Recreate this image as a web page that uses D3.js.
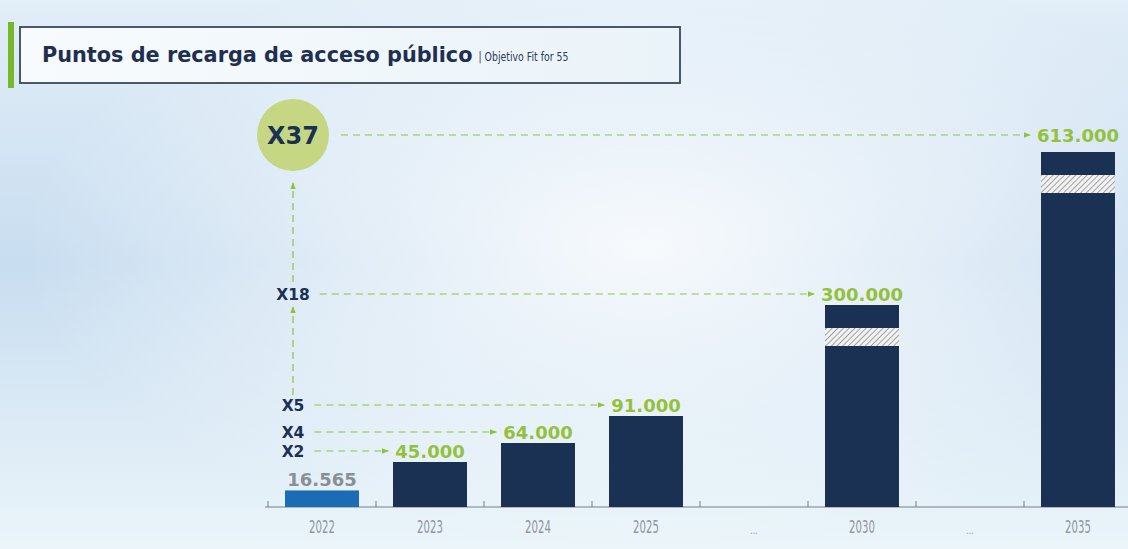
<!DOCTYPE html>
<html>
<head>
<meta charset="utf-8">
<script src="https://cdn.jsdelivr.net/npm/d3@7"></script>
<style>
  html, body { margin: 0; padding: 0; overflow: hidden; }
  svg { display: block; }
</style>
</head>
<body>
<svg id="chart" width="1128" height="549"></svg>
<script>
// Public charging points, Fit for 55 target
const categoryKeys   = ["2022", "2023", "2024", "2025", "gap1", "2030", "gap2", "2035"];
const categoryLabels = ["2022", "2023", "2024", "2025", "...", "2030", "...", "2035"];
const yearKeys   = ["2022", "2023", "2024", "2025", "2030", "2035"];
const yearValues = [16565, 45000, 64000, 91000, 300000, 613000];
const brokenYears = ["2030", "2035"];          // bars drawn with an axis break
const multiplierLabels  = ["X2", "X4", "X5", "X18", "X37"];
const multiplierTargets = ["2023", "2024", "2025", "2030", "2035"];
const titleText = "Puntos de recarga de acceso público";
const subtitleText = "| Objetivo Fit for 55";

const W = 1128, H = 549;
const svg = d3.select("#chart");
const defs = svg.append("defs");

const navy = "#1b3154";
const green = "#93c13b";
const dashGreen = "#8fc43a";

// background: soft blue wash with a bright centre
const bgLin = defs.append("linearGradient").attr("id", "bgLin")
  .attr("x1", 0).attr("y1", 0).attr("x2", 0).attr("y2", 1);
bgLin.append("stop").attr("offset", "0%").attr("stop-color", "#e2eef8");
bgLin.append("stop").attr("offset", "48%").attr("stop-color", "#c8ddf0");
bgLin.append("stop").attr("offset", "100%").attr("stop-color", "#ebf5fa");
svg.append("rect").attr("width", W).attr("height", H).attr("fill", "url(#bgLin)");
const bgRad = defs.append("radialGradient").attr("id", "bgRad")
  .attr("cx", "57%").attr("cy", "45%").attr("r", "55%");
bgRad.append("stop").attr("offset", "0%").attr("stop-color", "#ffffff").attr("stop-opacity", 0.85);
bgRad.append("stop").attr("offset", "60%").attr("stop-color", "#ffffff").attr("stop-opacity", 0.35);
bgRad.append("stop").attr("offset", "100%").attr("stop-color", "#ffffff").attr("stop-opacity", 0);
svg.append("rect").attr("width", W).attr("height", H).attr("fill", "url(#bgRad)");

// hatch for the axis break
const hatch = defs.append("pattern").attr("id", "hatch")
  .attr("patternUnits", "userSpaceOnUse").attr("width", 4).attr("height", 4)
  .attr("patternTransform", "rotate(45)");
hatch.append("rect").attr("width", 4).attr("height", 4).attr("fill", "#f2f2f2");
hatch.append("line").attr("x1", 0).attr("y1", 0).attr("x2", 0).attr("y2", 4)
  .attr("stroke", "#8e8e8e").attr("stroke-width", 1.6);

// arrow marker
defs.append("marker").attr("id", "arrow")
  .attr("viewBox", "0 0 10 10").attr("refX", 9).attr("refY", 5)
  .attr("markerWidth", 6).attr("markerHeight", 6).attr("orient", "auto")
  .append("path").attr("d", "M0,1 L10,5 L0,9 Z").attr("fill", dashGreen);

// title box
svg.append("rect").attr("x", 8).attr("y", 22).attr("width", 6).attr("height", 66).attr("fill", "#76b82a");
const tg = defs.append("linearGradient").attr("id", "titlebg").attr("x1", 0).attr("x2", 1);
tg.append("stop").attr("offset", "0%").attr("stop-color", "#f7fbfd");
tg.append("stop").attr("offset", "100%").attr("stop-color", "#eaf3f9");
svg.append("rect").attr("x", 20).attr("y", 27).attr("width", 660).attr("height", 56)
  .attr("fill", "url(#titlebg)").attr("stroke", "#3a4757").attr("stroke-width", 1.8);
const title = svg.append("text").attr("x", 42).attr("y", 62)
  .attr("font-family", "DejaVu Sans").attr("font-weight", "bold")
  .attr("font-size", 20.8).attr("fill", "#1f2f4f").text(titleText);
const tw = title.node().getComputedTextLength();
svg.append("text")
  .attr("transform", `translate(${42 + tw + 6},61) scale(0.72,1)`)
  .attr("font-family", "DejaVu Sans")
  .attr("font-size", 13).attr("fill", "#2a3b58").text(subtitleText);

// scales
const x = d3.scaleBand().domain(categoryKeys).range([268, 1132])
  .paddingInner(0.315).paddingOuter(0.1575);
const y = d3.scaleLinear()
  .domain([0, 100000, 300000, 613000])
  .range([507, 407, 305, 152]);

const fmt = d3.formatLocale({ decimal: ",", thousands: ".", grouping: [3], currency: ["", " €"] }).format(",d");

const bars = yearKeys.map((k, i) => ({ key: k, value: yearValues[i] }));

// x axis
const axisG = svg.append("g").attr("transform", "translate(0,507)");
axisG.append("line").attr("x1", 265).attr("x2", W).attr("y1", 0).attr("y2", 0)
  .attr("stroke", "#7a7f85").attr("stroke-width", 1.2);
const boundaries = categoryKeys.map(k => x(k) - (x.step() - x.bandwidth()) / 2);
axisG.selectAll("line.tick").data(boundaries).join("line").attr("class", "tick")
  .attr("x1", d => d).attr("x2", d => d).attr("y1", -6).attr("y2", 0)
  .attr("stroke", "#7a7f85").attr("stroke-width", 1);
const isGap = i => categoryLabels[i] === "...";
axisG.selectAll("text").data(categoryKeys).join("text")
  .attr("transform", (d, i) =>
    `translate(${x(d) + x.bandwidth() / 2},${isGap(i) ? 27 : 26}) scale(${isGap(i) ? 0.8 : 0.58},1)`)
  .attr("text-anchor", "middle")
  .attr("font-family", "DejaVu Sans")
  .attr("font-size", (d, i) => isGap(i) ? 10 : 17.5)
  .attr("fill", "#92979d")
  .text((d, i) => categoryLabels[i]);

// bars
svg.selectAll("rect.bar").data(bars).join("rect").attr("class", "bar")
  .attr("x", d => x(d.key)).attr("width", x.bandwidth())
  .attr("y", d => y(d.value)).attr("height", d => y(0) - y(d.value))
  .attr("fill", (d, i) => i === 0 ? "#1c6cb5" : navy);

// axis-break bands
const breakOffset = 23, breakHeight = 18;
svg.selectAll("rect.brk").data(bars.filter(d => brokenYears.includes(d.key))).join("rect")
  .attr("class", "brk")
  .attr("x", d => x(d.key)).attr("width", x.bandwidth())
  .attr("y", d => y(d.value) + breakOffset).attr("height", breakHeight)
  .attr("fill", "url(#hatch)");

// value labels
const rowY = d => y(d.value) - (d.key === "2035" ? 17 : 11);
const valueLabels = svg.selectAll("text.val").data(bars).join("text").attr("class", "val")
  .attr("x", d => x(d.key) + x.bandwidth() / 2)
  .attr("y", d => rowY(d) + 6.5)
  .attr("text-anchor", "middle")
  .attr("font-family", "DejaVu Sans").attr("font-weight", "bold").attr("font-size", 18)
  .attr("fill", (d, i) => i === 0 ? "#8a8f95" : green)
  .text(d => fmt(d.value));

const labelLeft = {};
valueLabels.each(function(d) {
  labelLeft[d.key] = x(d.key) + x.bandwidth() / 2 - this.getComputedTextLength() / 2;
});

// multipliers
const markerX = 293;
const rows = multiplierLabels.map((m, i) => {
  const b = bars.find(d => d.key === multiplierTargets[i]);
  return { label: m, key: b.key, value: b.value, yy: rowY(b), circle: i === multiplierLabels.length - 1 };
});

const circleRow = rows.find(r => r.circle);
svg.append("circle").attr("cx", markerX).attr("cy", circleRow.yy).attr("r", 36).attr("fill", "#c6d783");

rows.forEach(r => {
  const t = svg.append("text").attr("x", markerX).attr("y", r.yy + (r.circle ? 8.5 : 5.5))
    .attr("text-anchor", "middle")
    .attr("font-family", "DejaVu Sans").attr("font-weight", "bold")
    .attr("font-size", r.circle ? 24 : 15.5).attr("fill", navy).text(r.label);
  const startX = r.circle ? markerX + 48 : markerX + t.node().getComputedTextLength() / 2 + 10;
  svg.append("line").attr("x1", startX).attr("x2", labelLeft[r.key] - 7)
    .attr("y1", r.yy).attr("y2", r.yy)
    .attr("stroke", dashGreen).attr("stroke-width", 1.2).attr("stroke-dasharray", "7,5")
    .attr("marker-end", "url(#arrow)");
});

// vertical growth arrows
const rowByLabel = l => rows.find(r => r.label === l);
const vArrows = [
  { from: rowByLabel("X5").yy - 10, to: rowByLabel("X18").yy + 13 },
  { from: rowByLabel("X18").yy - 12, to: circleRow.yy + 48 }
];
svg.selectAll("line.varrow").data(vArrows).join("line").attr("class", "varrow")
  .attr("x1", markerX).attr("x2", markerX)
  .attr("y1", d => d.from).attr("y2", d => d.to)
  .attr("stroke", dashGreen).attr("stroke-width", 1.2).attr("stroke-dasharray", "7,5")
  .attr("marker-end", "url(#arrow)");
</script>
</body>
</html>
